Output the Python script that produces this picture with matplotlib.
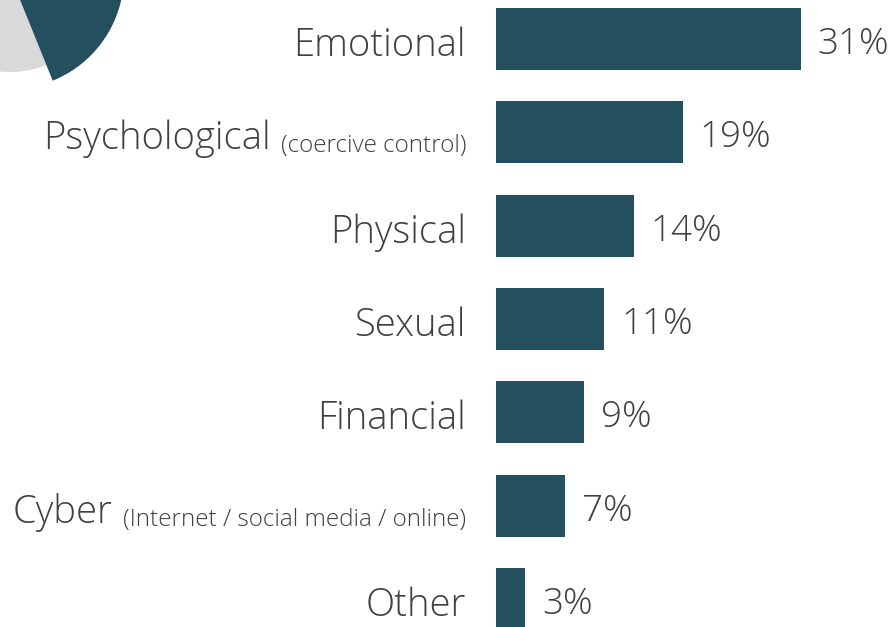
import matplotlib.pyplot as plt
from matplotlib.transforms import offset_copy

categories = ['Emotional', 'Psychological', 'Physical', 'Sexual', 'Financial', 'Cyber', 'Other']
notes = ['', '(coercive control)', '', '', '', '(Internet / social media / online)', '']
values = [31, 19, 14, 11, 9, 7, 3]
pie_values = [30, 70]

teal = '#234f5e'
grey = '#d9d9d9'
txt = '#404040'
plt.rcParams['font.family'] = ['Open Sans', 'DejaVu Sans']

W, H = 895, 627
fig = plt.figure(figsize=(W / 100, H / 100), dpi=100)

# pie fragment in the top-left corner, mostly off canvas (centre ~ (10, -25) px)
pax = fig.add_axes([(10 - 150) / W, (H + 25 - 150) / H, 300 / W, 300 / H])
wedges, _ = pax.pie(pie_values, colors=[teal, grey], startangle=-68, radius=0.97,
                    wedgeprops=dict(linewidth=0))
wedges[0].set_radius(1.14)
wedges[0].set_zorder(3)
pax.set_xlim(-1.5, 1.5)
pax.set_ylim(-1.5, 1.5)
pax.axis('off')

# bars
unit = 93.33
top = 39 - 0.5 * unit
bottom = 599 + 0.5 * unit
ax = fig.add_axes([496 / W, (H - bottom) / H, 344 / W, (bottom - top) / H])
y = list(range(len(categories)))
ax.barh(y, values, height=0.665, color=teal)
ax.set_xlim(0, 35)
ax.set_ylim(len(categories) - 0.5, -0.5)
ax.axis('off')

px = 9.83  # pixels per percent
fw = 'light'
fig.canvas.draw()
r = fig.canvas.get_renderer()
for i, (c, n, v) in enumerate(zip(categories, notes, values)):
    yy = i + 17 / unit
    shift = 0
    if n:
        t = ax.text(-30 / px, yy + 3 / unit, n, ha='right', va='baseline',
                    fontsize=17.5, color=txt, fontweight=fw)
        shift = t.get_window_extent(r).width + 10
    tr = offset_copy(ax.transData, fig=fig, x=-shift, y=0, units='dots')
    ax.text(-30 / px, yy, c, ha='right', va='baseline', fontsize=27.5, color=txt,
            transform=tr, fontweight=fw)
    ax.text(v + 17 / px, i + 15 / unit, f'{v}%', ha='left', va='baseline',
            fontsize=26.5, color=txt, fontweight=fw)

fig.savefig('out.png', dpi=100)
